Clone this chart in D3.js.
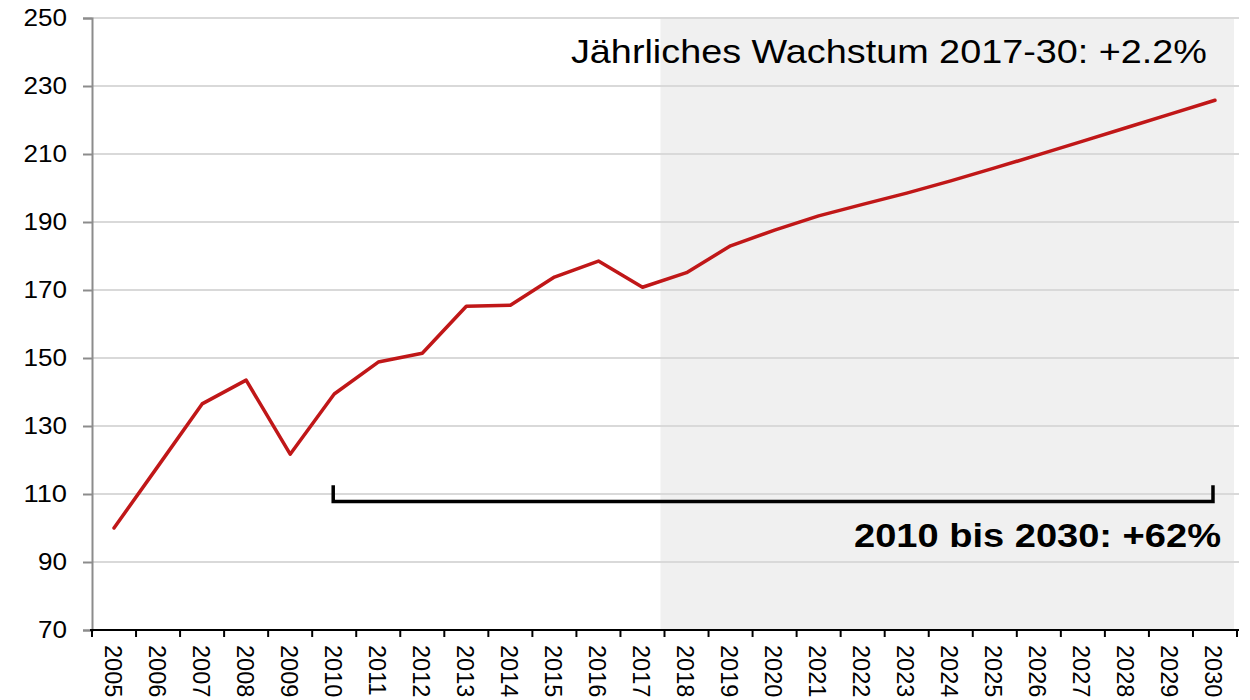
<!DOCTYPE html>
<html><head><meta charset="utf-8">
<script src="https://cdn.jsdelivr.net/npm/d3@7"></script>
<style>body{margin:0;background:#fff;} svg{display:block;font-family:"Liberation Sans",Arial,sans-serif;}</style>
</head><body>
<script>
const years = ["2005","2006","2007","2008","2009","2010","2011","2012","2013","2014","2015","2016","2017","2018","2019","2020","2021","2022","2023","2024","2025","2026","2027","2028","2029","2030"];
const values = [100,118.2,136.5,143.5,121.7,139.4,148.8,151.4,165.2,165.5,173.8,178.5,170.8,175.1,183.0,187.6,191.8,195.2,198.5,202.1,205.9,209.8,213.8,217.8,221.8,225.8];
const yTicks = [70,90,110,130,150,170,190,210,230,250];
const forecastStart = "2018";
const bracketFrom = "2010", bracketTo = "2030";
const topLabel = "Jährliches Wachstum 2017-30: +2.2%";
const bracketLabel = "2010 bis 2030: +62%";

const W = 1250, H = 700;
const m = {left: 92, right: 13, top: 18, bottom: 70};
const svg = d3.select("body").append("svg").attr("width", W).attr("height", H);

const x = d3.scaleBand().domain(years).range([m.left, W - m.right]).padding(0);
const y = d3.scaleLinear().domain([70, 250]).range([H - m.bottom, m.top]);
const cx = d => x(d) + x.bandwidth() / 2;

// forecast shading
svg.append("rect")
  .attr("x", x(forecastStart) - 4)
  .attr("y", y(250))
  .attr("width", x(years[years.length-1]) + x.bandwidth() - 3 - (x(forecastStart) - 4))
  .attr("height", y(70) - y(250))
  .attr("fill", "#f0f0f0");

// grid
svg.append("g").selectAll("line").data(yTicks.slice(1)).join("line")
  .attr("x1", m.left).attr("x2", W - m.right + 2)
  .attr("y1", d => y(d)).attr("y2", d => y(d))
  .attr("stroke", "#d9d9d9").attr("stroke-width", 2);

// y axis
const ya = svg.append("g").attr("transform", `translate(${m.left},0)`)
  .call(d3.axisLeft(y).tickValues(yTicks).tickSize(9).tickPadding(16));
ya.select(".domain").attr("stroke", "#8c8c8c").attr("stroke-width", 2);
ya.selectAll(".tick line").attr("stroke", "#8c8c8c").attr("stroke-width", 2);
ya.selectAll("text").attr("font-size", 24).attr("fill", "#000")
  .attr("font-family", "'Liberation Sans', Arial, sans-serif")
  .attr("textLength", d => String(d).length * 14.5).attr("lengthAdjust", "spacingAndGlyphs");

// x axis
const xa = svg.append("g").attr("transform", `translate(0,${y(70)})`);
xa.append("line").attr("x1", m.left - 2).attr("x2", W - m.right + 2)
  .attr("y1", 0).attr("y2", 0).attr("stroke", "#000").attr("stroke-width", 2);
xa.selectAll("line.t").data(years.concat(["end"])).join("line").attr("class","t")
  .attr("x1", (d,i) => i < years.length ? x(d) : x(years[years.length-1]) + x.bandwidth())
  .attr("x2", (d,i) => i < years.length ? x(d) : x(years[years.length-1]) + x.bandwidth())
  .attr("y1", 0).attr("y2", 7).attr("stroke", "#000").attr("stroke-width", 2);
xa.selectAll("text").data(years).join("text")
  .attr("transform", d => `translate(${cx(d) - 9.5},${15}) rotate(90)`)
  .attr("font-size", 23.5).attr("fill", "#000").text(d => d);

// line
svg.append("path").datum(values)
  .attr("fill", "none").attr("stroke", "#c01718").attr("stroke-width", 3.5)
  .attr("stroke-linejoin", "round").attr("stroke-linecap", "round")
  .attr("d", d3.line().x((d,i) => cx(years[i])).y(d => y(d)));

// bracket
const bx1 = cx(bracketFrom) - 1, bx2 = cx(bracketTo) - 2;
svg.append("path")
  .attr("d", `M${bx1},${y(112.6)} L${bx1},${y(107.8)} L${bx2},${y(107.8)} L${bx2},${y(112.6)}`)
  .attr("fill", "none").attr("stroke", "#000").attr("stroke-width", 3.5);

// labels
svg.append("text").attr("x", cx(bracketTo) + 6).attr("y", y(94.5))
  .attr("text-anchor", "end").attr("font-size", 32.5).attr("font-weight", "bold")
  .attr("textLength", 367).attr("lengthAdjust", "spacingAndGlyphs")
  .attr("fill", "#000").text(bracketLabel);
svg.append("text").attr("x", cx(bracketTo) - 8).attr("y", y(236.7))
  .attr("text-anchor", "end").attr("font-size", 34)
  .attr("textLength", 636).attr("lengthAdjust", "spacingAndGlyphs")
  .attr("fill", "#000").text(topLabel);
</script>
</body></html>
